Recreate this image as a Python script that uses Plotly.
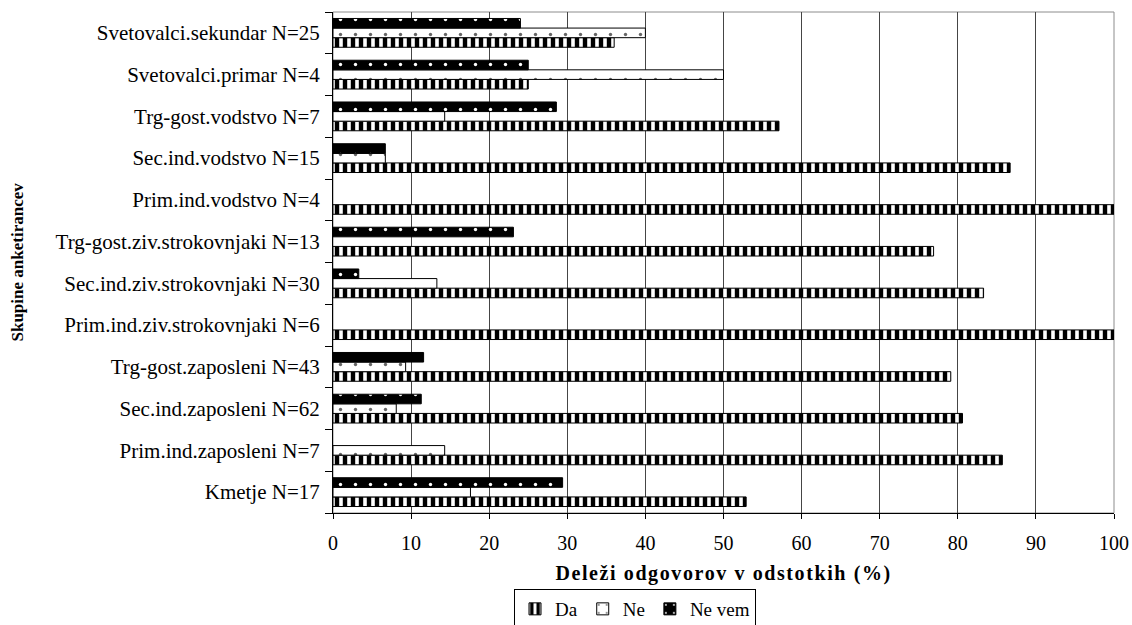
import plotly.graph_objects as go

categories = [
    "Kmetje N=17",
    "Prim.ind.zaposleni N=7",
    "Sec.ind.zaposleni N=62",
    "Trg-gost.zaposleni N=43",
    "Prim.ind.ziv.strokovnjaki N=6",
    "Sec.ind.ziv.strokovnjaki N=30",
    "Trg-gost.ziv.strokovnjaki N=13",
    "Prim.ind.vodstvo N=4",
    "Sec.ind.vodstvo N=15",
    "Trg-gost.vodstvo N=7",
    "Svetovalci.primar N=4",
    "Svetovalci.sekundar N=25",
]
da = [52.9, 85.7, 80.6, 79.1, 100, 83.3, 76.9, 100, 86.7, 57.1, 25, 36]
ne = [17.6, 14.3, 8.1, 9.3, 0, 13.3, 0, 0, 6.7, 14.3, 50, 40]
ne_vem = [29.4, 0, 11.3, 11.6, 0, 3.3, 23.1, 0, 6.7, 28.6, 25, 24]
x_ticks = [0, 10, 20, 30, 40, 50, 60, 70, 80, 90, 100]

FONT = "Liberation Serif, Times New Roman, Times, serif"


def outline(values):
    return [1 if v > 0 else 0 for v in values]


fig = go.Figure()
fig.add_trace(go.Bar(
    name="Da", y=categories, x=da, orientation="h",
    marker=dict(color="white", line=dict(color="black", width=outline(da)),
                pattern=dict(shape="|", fgcolor="black", bgcolor="white",
                             size=8, solidity=0.55, fillmode="replace")),
))
fig.add_trace(go.Bar(
    name="Ne", y=categories, x=ne, orientation="h",
    marker=dict(color="white", line=dict(color="black", width=outline(ne)),
                pattern=dict(shape=".", fgcolor="#666666", bgcolor="white",
                             size=15, solidity=0.04, fillmode="replace")),
))
fig.add_trace(go.Bar(
    name="Ne vem", y=categories, x=ne_vem, orientation="h",
    marker=dict(color="black", line=dict(color="black", width=outline(ne_vem)),
                pattern=dict(shape=".", fgcolor="white", bgcolor="black",
                             size=15, solidity=0.04, fillmode="replace")),
))

fig.update_layout(
    width=1132, height=625,
    margin=dict(l=333, r=18, t=12, b=112, autoexpand=False),
    paper_bgcolor="white", plot_bgcolor="white",
    barmode="group", bargap=0.31, bargroupgap=0,
    font=dict(family=FONT, size=20, color="black"),
    showlegend=True,
    legend=dict(orientation="h", x=(635 - 333) / 781, xanchor="center",
                y=-(589 - 513) / 501, yanchor="top",
                bordercolor="black", borderwidth=1, bgcolor="white",
                font=dict(family=FONT, size=19, color="black"),
                traceorder="normal"),
    xaxis=dict(range=[0, 100], tickvals=x_ticks, ticks="outside", ticklen=5,
               tickcolor="black", showline=True, linecolor="black", linewidth=1,
               showgrid=True, gridcolor="#454545", gridwidth=1, zeroline=False,
               ticklabelstandoff=7, tickfont=dict(family=FONT, size=20, color="black")),
    yaxis=dict(categoryorder="array", categoryarray=categories,
               ticks="outside", ticklen=7, tickcolor="black", tickson="boundaries",
               showline=True, linecolor="black", linewidth=1, showgrid=False,
               ticklabelstandoff=8, tickfont=dict(family=FONT, size=21, color="black")),
    shapes=[dict(type="rect", xref="paper", yref="paper", x0=0, x1=1, y0=0, y1=1,
                 line=dict(color="#8c8c8c", width=1), layer="below")],
    annotations=[
        dict(text="<b>Deleži odgovorov v odstotkih (%)</b>", xref="paper", yref="paper",
             x=0.5, y=-(573 - 513) / 501, xanchor="center", yanchor="middle",
             showarrow=False, font=dict(family=FONT, size=20, color="black")),
        dict(text="<b>Skupine anketirancev</b>", xref="paper", yref="paper",
             x=(17 - 333) / 781, y=0.5, xanchor="center", yanchor="middle",
             textangle=-90, showarrow=False,
             font=dict(family=FONT, size=17, color="black")),
    ],
)

post = """
document.querySelectorAll('text.annotation-text').forEach(function(t){
  if (t.textContent.indexOf('Dele') === 0) { t.style.letterSpacing = '1.6px'; }
});
"""
fig.write_html("out.html", post_script=post)
